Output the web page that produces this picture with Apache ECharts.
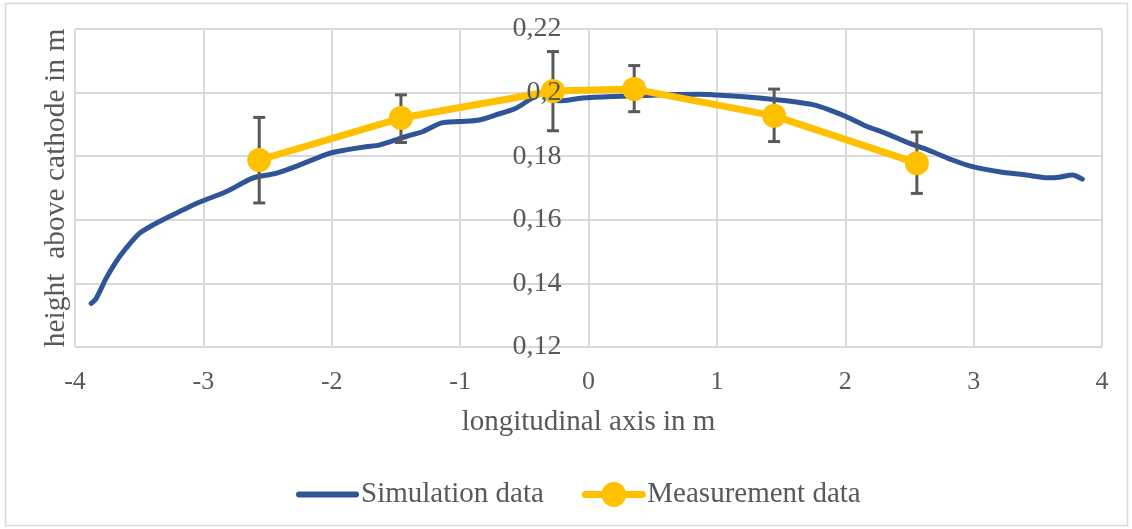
<!DOCTYPE html>
<html>
<head>
<meta charset="utf-8">
<script src="https://cdn.jsdelivr.net/npm/echarts@6/dist/echarts.min.js"></script>
<style>
html,body{margin:0;padding:0;background:#fff;}
#chart{width:1132px;height:529px;}
</style>
</head>
<body>
<div id="chart"></div>
<script>
// ---- data ----
const xTicks = [-4, -3, -2, -1, 0, 1, 2, 3, 4];
const yTicks = [0.12, 0.14, 0.16, 0.18, 0.2, 0.22];

const simX = [-3.875,-3.836,-3.759,-3.681,-3.603,-3.499,-3.396,-3.240,-3.032,-2.824,-2.617,-2.435,-2.253,-2.019,-1.889,-1.734,-1.630,-1.474,-1.422,-1.293,-1.150,-1.007,-0.851,-0.721,-0.565,-0.462,-0.380,-0.320,-0.240,-0.189,-0.047,0.187,0.330,0.576,0.862,1.096,1.329,1.485,1.589,1.745,1.875,2.005,2.160,2.316,2.498,2.679,2.835,2.991,3.199,3.407,3.588,3.666,3.769,3.847];
const simY = [0.1337,0.1352,0.1415,0.1468,0.1510,0.1557,0.1583,0.1615,0.1655,0.1688,0.1731,0.1746,0.1772,0.1809,0.1820,0.1830,0.1835,0.1855,0.1862,0.1877,0.1904,0.1909,0.1914,0.1930,0.1951,0.1977,0.1996,0.2002,0.1974,0.1975,0.1983,0.1988,0.1989,0.1993,0.1995,0.1990,0.1983,0.1977,0.1972,0.1962,0.1946,0.1925,0.1895,0.1872,0.1841,0.1814,0.1788,0.1767,0.1751,0.1741,0.1732,0.1734,0.1741,0.1728];

const measX = [-2.565, -1.461, -0.277, 0.356, 1.446, 2.558];
const measY = [0.1788, 0.1920, 0.2005, 0.2011, 0.1927, 0.1778];
const errLow = [0.1653, 0.1843, 0.1880, 0.1940, 0.1846, 0.1683];
const errHigh = [0.1922, 0.1993, 0.2129, 0.2085, 0.2011, 0.1876];

const seriesNames = ['Simulation data', 'Measurement data'];
const xTitle = 'longitudinal axis in m';
const yTitle = 'height  above cathode in m';

// ---- build ----
const FONT = '"Liberation Serif", "DejaVu Serif", serif';
const TXT = '#595959';
const GRIDC = '#d9d9d9';
const BLUE = '#2F5597', YELLOW = '#FFC000';

const simData = simX.map((x, i) => [x, simY[i]]);
const measData = measX.map((x, i) => [x, measY[i]]);
const errData = measX.map((x, i) => [x, errLow[i], errHigh[i]]);

const yMin = yTicks[0], yMax = yTicks[yTicks.length - 1];
const yInt = +(yTicks[1] - yTicks[0]).toFixed(4);
const xMin = xTicks[0], xMax = xTicks[xTicks.length - 1];
const xInt = xTicks[1] - xTicks[0];

const W = 1132, gridLeft = 75, gridRight = 30;
const gridW = W - gridLeft - gridRight;
// distance from the grid's left edge to x = 0, so the y tick labels sit at the zero line
const zeroOffset = gridW * (0 - xMin) / (xMax - xMin);

const chart = echarts.init(document.getElementById('chart'));
chart.setOption({
  animation: false,
  backgroundColor: '#fff',
  graphic: [{
    type: 'rect', z: -10, silent: true,
    shape: { x: 5.5, y: 3.5, width: 1122, height: 522 },
    style: { fill: 'none', stroke: GRIDC, lineWidth: 1.5 }
  }],
  grid: { left: gridLeft, right: gridRight, top: 29, bottom: 182, containLabel: false, outerBoundsMode: 'none' },
  legend: {
    data: [
      { name: seriesNames[0], itemStyle: { opacity: 0 }, lineStyle: { width: 6, color: BLUE, cap: 'round' } },
      { name: seriesNames[1], lineStyle: { width: 7, color: YELLOW, cap: 'round' } }
    ],
    left: 291, top: 475,
    itemWidth: 57, itemHeight: 31, itemGap: 38,
    textStyle: { fontFamily: FONT, fontSize: 29, color: TXT }
  },
  xAxis: {
    type: 'value', min: xMin, max: xMax, interval: xInt,
    name: xTitle, nameLocation: 'middle', nameGap: 61,
    nameTextStyle: { fontFamily: FONT, fontSize: 29, color: TXT },
    axisLine: { show: false }, axisTick: { show: false },
    axisLabel: { fontFamily: FONT, fontSize: 26, color: TXT, margin: 22 },
    splitLine: { show: true, lineStyle: { color: GRIDC, width: 2 } }
  },
  yAxis: [{
    type: 'value', min: yMin, max: yMax, interval: yInt, position: 'left',
    name: yTitle, nameLocation: 'middle', nameGap: 4, nameRotate: 90,
    nameTextStyle: { fontFamily: FONT, fontSize: 29.5, color: TXT, verticalAlign: 'bottom' },
    axisLine: { show: false, onZero: false }, axisTick: { show: false },
    axisLabel: { show: false },
    splitLine: { show: true, lineStyle: { color: GRIDC, width: 2 } }
  }, {
    type: 'value', min: yMin, max: yMax, interval: yInt, position: 'left', z: 10,
    offset: -zeroOffset,
    axisLine: { show: false, onZero: false }, axisTick: { show: false },
    splitLine: { show: false },
    axisLabel: {
      fontFamily: FONT, fontSize: 28, color: TXT, margin: 27,
      formatter: v => String(+(+v).toFixed(2)).replace('.', ',')
    }
  }],
  series: [{
    name: seriesNames[0], type: 'line', data: simData,
    symbol: 'none', smooth: 0.25, z: 2,
    lineStyle: { color: BLUE, width: 5, cap: 'round', join: 'round' },
    itemStyle: { color: BLUE }
  }, {
    name: 'err', type: 'custom', data: errData, z: 3,
    renderItem: function (params, api) {
      const x = api.value(0);
      const lo = api.coord([x, api.value(1)]);
      const hi = api.coord([x, api.value(2)]);
      const hw = 6;
      const st = { stroke: '#595959', lineWidth: 3, fill: 'none' };
      return { type: 'group', children: [
        { type: 'line', shape: { x1: lo[0], y1: lo[1], x2: hi[0], y2: hi[1] }, style: st },
        { type: 'line', shape: { x1: lo[0] - hw, y1: lo[1], x2: lo[0] + hw, y2: lo[1] }, style: st },
        { type: 'line', shape: { x1: hi[0] - hw, y1: hi[1], x2: hi[0] + hw, y2: hi[1] }, style: st }
      ]};
    }
  }, {
    name: seriesNames[1], type: 'line', data: measData, z: 4,
    symbol: 'circle', symbolSize: 24,
    lineStyle: { color: YELLOW, width: 7 },
    itemStyle: { color: YELLOW }
  }]
});
</script>
</body>
</html>
